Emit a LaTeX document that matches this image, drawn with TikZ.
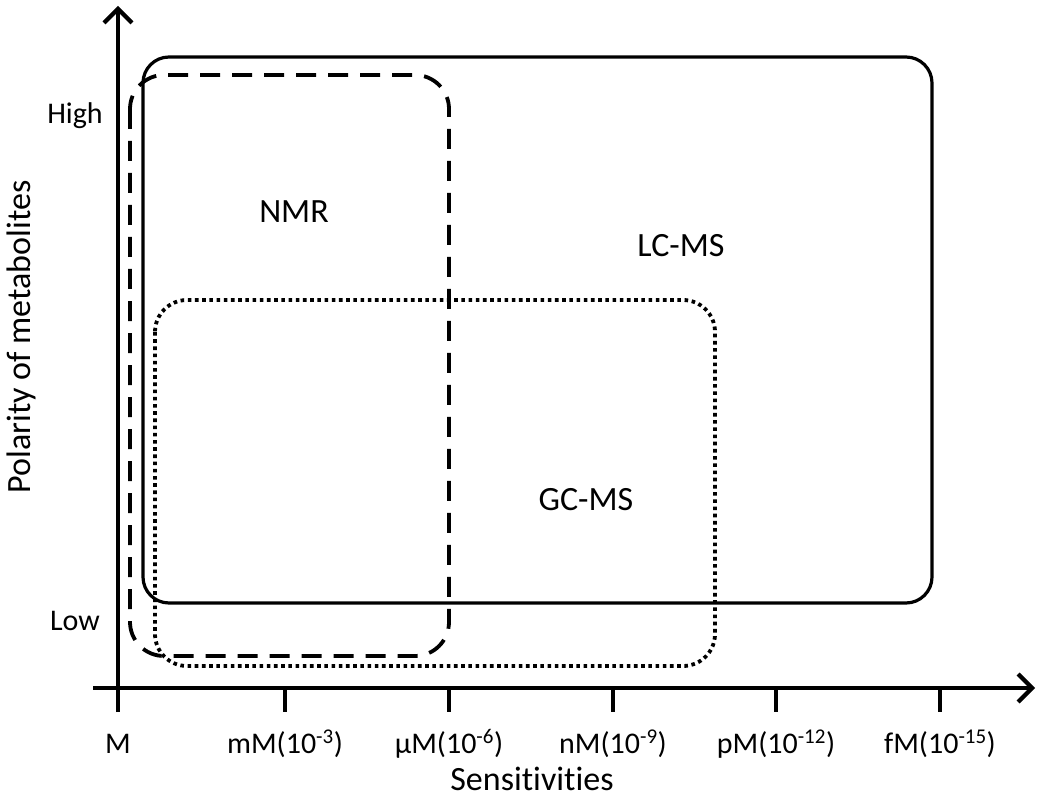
\documentclass[tikz,border=0pt]{standalone}
\usepackage{fontspec}
\setmainfont[Ligatures=NoCommon]{Carlito}
\usetikzlibrary{arrows.meta}
\begin{document}
\begin{tikzpicture}[x=1pt,y=-1pt,
  axis/.style={line width=4.2pt,-{Straight Barb[length=14pt,width=28pt,line width=4.2pt]}},
  tickline/.style={line width=4.2pt},
  lcbox/.style={line width=3.2pt,rounded corners=26pt},
  nmrbox/.style={line width=3.8pt,dash pattern=on 20pt off 12pt,rounded corners=34pt},
  gcbox/.style={line width=3.8pt,dash pattern=on 3.6pt off 3.6pt,rounded corners=32pt},
  lbl/.style={font=\fontsize{34}{40}\selectfont,inner sep=0pt,anchor=base},
  ticklbl/.style={font=\fontsize{30}{36}\selectfont,inner sep=0pt,anchor=base}]
\useasboundingbox (0,0) rectangle (1050,805);
% boxes
\draw[lcbox] (143,57) rectangle (932,603);
\draw[nmrbox] (130,75) rectangle (449,656);
\draw[gcbox] (155,300) rectangle (715,666);
% axes
\coordinate (xs) at (93,688);
\coordinate (xe) at (1035,688);
\coordinate (ys) at (118,712);
\coordinate (ye) at (118,6);
\draw[axis] (xs) -- (xe);
\draw[axis] (ys) -- (ye);
% ticks
\foreach \x/\n in {285/a,449/b,613/c,776/d,940/e}{
  \coordinate (t\n1) at (\x,688);
  \coordinate (t\n2) at (\x,712);
  \draw[tickline] (t\n1) -- (t\n2);
}
% tick labels
\node[ticklbl] (lM) at (118,753) {M};
\node[ticklbl] (lmM) at (285,753) {mM(10\textsuperscript{-3})};
\node[ticklbl] (luM) at (449,753) {µM(10\textsuperscript{-6})};
\node[ticklbl] (lnM) at (613,753) {nM(10\textsuperscript{-9})};
\node[ticklbl] (lpM) at (776,753) {pM(10\textsuperscript{-12})};
\node[ticklbl] (lfM) at (940,753) {fM(10\textsuperscript{-15})};
\node[lbl] (sens) at (532,790) {Sensitivities};
\node[lbl,rotate=90,anchor=center] (pol) at (21,337) {Polarity of metabolites};
\node[ticklbl] (high) at (75,124) {High};
\node[ticklbl] (low) at (75,630) {Low};
% box labels
\node[lbl] (nmr) at (294,223) {NMR};
\node[lbl] (lcms) at (681,257) {LC-MS};
\node[lbl] (gcms) at (586,510) {GC-MS};
\end{tikzpicture}
\end{document}
